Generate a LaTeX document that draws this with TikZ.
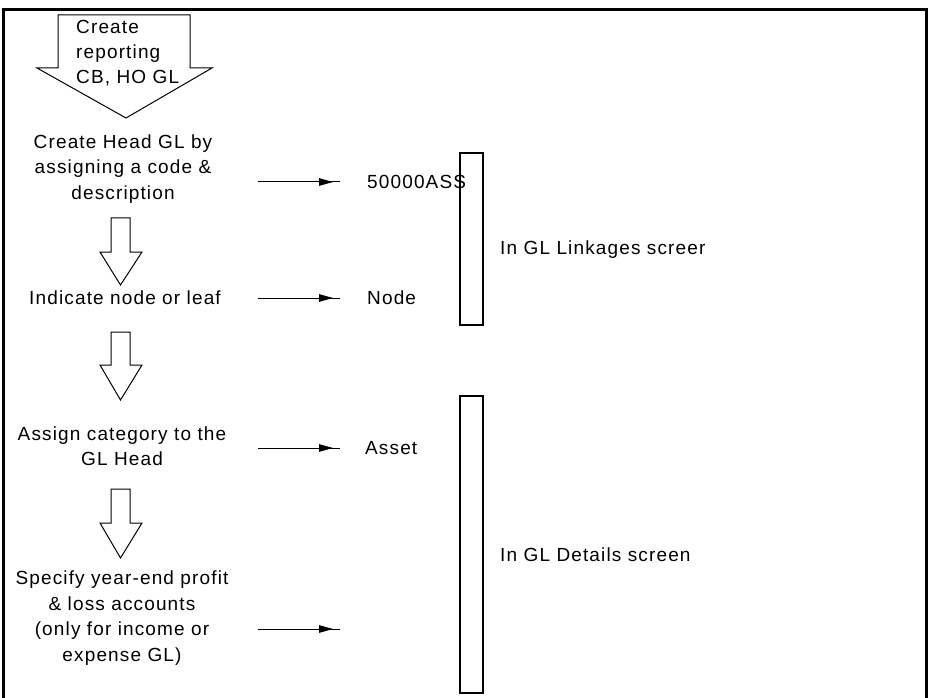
\documentclass[tikz,border=0pt]{standalone}
\usepackage{fontspec}
\setmainfont{Liberation Sans}[LetterSpace=6]
\usetikzlibrary{arrows.meta,decorations.markings}
\begin{document}
\begin{tikzpicture}[x=1pt,y=-1pt,
  txt/.style={font=\fontsize{19}{25.5}\selectfont, inner sep=0pt, align=center},
  lbl/.style={font=\fontsize{19}{25.5}\selectfont, inner sep=0pt, anchor=west},
  blockarrow/.style={draw=black, line width=1pt, line join=miter},
  linkarrow/.style={draw=black, line width=1pt,
    postaction={decorate},
    decoration={markings, mark=at position 0.915 with {\arrow{Triangle[length=14pt,width=7.5pt]}}}},
  screenbox/.style={draw=black, line width=1.3pt}]
\useasboundingbox (0,0) rectangle (930,698);
% outer frame
\draw[line width=3pt] (3,698) -- (3,9.5) -- (926.5,9.5) -- (926.5,698);
% big arrow
\draw[blockarrow] (58,15) -- (190,15) -- (190,68) -- (212,68) -- (126,118) -- (37,68) -- (58,68) -- cycle;
\node[font=\fontsize{19}{25}\selectfont, inner sep=0pt, align=left, anchor=north west] (start) at (76,20) {Create\\reporting\\CB, HO GL};
% step texts
\node[txt] (s1) at (123,169) {Create Head GL by\\assigning a code \&\\description};
\node[txt] (s2) at (125,298) {Indicate node or leaf};
\node[txt] (s3) at (122,446) {Assign category to the\\GL Head};
\node[txt] (s4) at (122,618) {Specify year-end profit\\\& loss accounts\\(only for income or\\expense GL)};
% small block arrows
\foreach \t/\s/\p in {218/252/285, 332/365/400, 489/523/558}{
  \draw[blockarrow] (111,\t) -- (130,\t) -- (130,\s) -- (142,\s) -- (120.5,\p) -- (100,\s) -- (111,\s) -- cycle;
}
% labels
\node[lbl] (v1) at (367,182) {50000ASS};
\node[lbl] (v2) at (367,298) {Node};
\node[lbl] (v3) at (365,448) {Asset};
% link arrows
\coordinate (a1s) at (258,182); \coordinate (a1e) at (340,182);
\coordinate (a2s) at (258,298); \coordinate (a2e) at (340,298);
\coordinate (a3s) at (258,448); \coordinate (a3e) at (340,448);
\coordinate (a4s) at (258,629); \coordinate (a4e) at (340,629);
\draw[linkarrow] (a1s) -- (a1e);
\draw[linkarrow] (a2s) -- (a2e);
\draw[linkarrow] (a3s) -- (a3e);
\draw[linkarrow] (a4s) -- (a4e);
% screen boxes
\draw[screenbox] (460,153) rectangle (483,325);
\draw[screenbox] (460,396) rectangle (483,693);
\node[lbl] (r1) at (500,250) {In GL Linkages screer};
\node[lbl] (r2) at (500,555) {In GL Details screen};
\end{tikzpicture}
\end{document}
